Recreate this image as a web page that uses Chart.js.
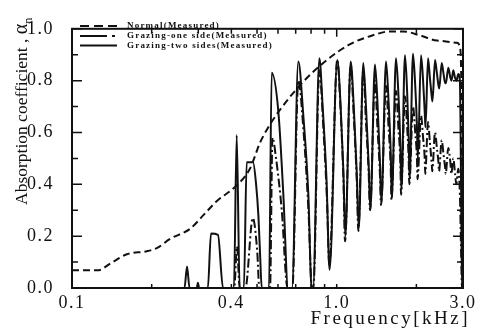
<!DOCTYPE html>
<html>
<head>
<meta charset="utf-8">
<script src="https://cdn.jsdelivr.net/npm/chart.js@4.4.1/dist/chart.umd.min.js"></script>
<style>
  html, body { margin: 0; padding: 0; background: #fff; }
  #wrap { width: 484px; height: 329px; }
</style>
</head>
<body>
<div id="wrap"><canvas id="myChart" width="484" height="329"></canvas></div>
<script>
const seriesNames = ["Normal(Measured)", "Grazing-one side(Measured)", "Grazing-two sides(Measured)"];

// Normal incidence (dashed)
const normalFreq = [0.1, 0.125, 0.14, 0.161, 0.192, 0.21, 0.235, 0.279, 0.313, 0.352, 0.413, 0.47, 0.513, 0.544,
  0.611, 0.746, 0.919, 1.12, 1.37, 1.59, 1.78, 2.06, 2.39, 2.85, 2.92, 2.96, 2.99];
const normalAlpha = [0.068, 0.068, 0.095, 0.13, 0.142, 0.155, 0.19, 0.228, 0.28, 0.335, 0.39, 0.46, 0.56, 0.61,
  0.688, 0.795, 0.88, 0.94, 0.975, 0.99, 0.99, 0.975, 0.955, 0.946, 0.93, 0.75, 0.0];

// Grazing, one side lined (dash-dot)
const oneSideFreq = [0.1, 0.41, 0.42, 0.43, 0.452, 0.482, 0.501, 0.51, 0.56, 0.572, 0.59, 0.62, 0.652,
  0.68, 0.716, 0.75, 0.782, 0.806, 0.816, 0.86, 0.89, 0.918, 0.938, 1.005, 1.035, 1.06, 1.075,
  1.129, 1.16, 1.19, 1.207, 1.26, 1.29, 1.32, 1.336, 1.395, 1.425, 1.455, 1.47, 1.536, 1.57, 1.6, 1.61,
  1.675, 1.71, 1.74, 1.75, 1.811, 1.845, 1.87, 1.88, 1.942, 1.98, 2.01, 2.02, 2.082, 2.12, 2.15, 2.16,
  2.213, 2.25, 2.285, 2.295, 2.352, 2.39, 2.425, 2.435, 2.493, 2.53, 2.57, 2.58, 2.64, 2.69, 2.71,
  2.757, 2.8, 2.83, 2.88, 2.92, 2.95, 2.975, 3.0];
const oneSideAlpha = [0, 0, 0.16, 0, 0, 0.27, 0.14, 0, 0, 0.58, 0.5, 0.3, 0,
  0, 0.8, 0.6, 0.3, 0, 0, 0.84, 0.62, 0.35, 0.09, 0.88, 0.68, 0.42, 0.18,
  0.86, 0.66, 0.42, 0.22, 0.84, 0.64, 0.45, 0.3, 0.8, 0.62, 0.45, 0.32, 0.78, 0.62, 0.46, 0.34,
  0.76, 0.62, 0.48, 0.36, 0.74, 0.62, 0.5, 0.4, 0.7, 0.6, 0.5, 0.42, 0.665, 0.58, 0.5, 0.44,
  0.64, 0.56, 0.48, 0.45, 0.6, 0.54, 0.48, 0.45, 0.57, 0.52, 0.46, 0.44, 0.54, 0.48, 0.44,
  0.5, 0.44, 0.4, 0.46, 0.36, 0.15, 0, 0];

// Grazing, two sides lined (solid)
const twoSidesFreq = [0.1, 0.266, 0.272, 0.278, 0.296, 0.299, 0.302, 0.326, 0.335, 0.356, 0.372,
  0.409, 0.419, 0.43, 0.446, 0.457, 0.483, 0.496, 0.506, 0.513, 0.521, 0.555, 0.568, 0.602, 0.628, 0.655,
  0.678, 0.716, 0.748, 0.781, 0.804, 0.814, 0.86, 0.885, 0.915, 0.94, 1.005, 1.035, 1.06, 1.078,
  1.129, 1.16, 1.19, 1.212, 1.26, 1.29, 1.32, 1.34, 1.395, 1.425, 1.455, 1.475, 1.536, 1.57, 1.6, 1.615,
  1.675, 1.71, 1.74, 1.755, 1.811, 1.845, 1.87, 1.885, 1.942, 1.98, 2.01, 2.025, 2.082, 2.12, 2.15, 2.165,
  2.213, 2.25, 2.285, 2.3, 2.352, 2.39, 2.425, 2.44, 2.493, 2.53, 2.57, 2.585, 2.64, 2.69, 2.715,
  2.757, 2.8, 2.835, 2.88, 2.92, 2.95, 2.975, 3.0];
const twoSidesAlpha = [0, 0, 0.083, 0, 0, 0.02, 0, 0, 0.21, 0.205, 0,
  0, 0.59, 0, 0, 0.485, 0.485, 0.4, 0.28, 0.14, 0, 0, 0.83, 0.68, 0.37, 0,
  0, 0.874, 0.665, 0.365, 0, 0, 0.886, 0.7, 0.42, 0.07, 0.88, 0.7, 0.45, 0.2,
  0.874, 0.7, 0.45, 0.23, 0.868, 0.7, 0.48, 0.3, 0.862, 0.72, 0.5, 0.33, 0.874, 0.72, 0.52, 0.35,
  0.886, 0.75, 0.55, 0.38, 0.898, 0.76, 0.58, 0.42, 0.904, 0.78, 0.62, 0.5, 0.898, 0.8, 0.68, 0.62,
  0.886, 0.81, 0.74, 0.72, 0.88, 0.83, 0.78, 0.77, 0.868, 0.83, 0.79, 0.79, 0.85, 0.81, 0.8,
  0.84, 0.81, 0.8, 0.826, 0.8, 0.4, 0, 0];

const xTickValues = [0.1, 0.4, 1.0, 3.0];
const xMarkValues = [0.1, 0.2, 0.3, 0.4, 0.5, 0.6, 0.7, 0.8, 0.9, 1.0, 2.0, 3.0];
const yMarkValues = [0, 0.1, 0.2, 0.3, 0.4, 0.5, 0.6, 0.7, 0.8, 0.9, 1.0];

function toPoints(xs, ys) {
  return xs.map((f, i) => ({ x: f, y: ys[i] }));
}

const frame = {
  id: "frame",
  beforeDraw(chart) {
    chart.ctx.letterSpacing = "1.5px";
  },
  afterDraw(chart) {
    const { ctx, chartArea: a, scales } = chart;
    ctx.save();
    ctx.letterSpacing = "0px";
    ctx.strokeStyle = "#111";
    ctx.lineWidth = 2;
    ctx.strokeRect(a.left, a.top, a.right - a.left, a.bottom - a.top);

    ctx.lineWidth = 1.5;
    ctx.beginPath();
    xMarkValues.forEach((v) => {
      const px = scales.x.getPixelForValue(v);
      const len = v === 1.0 ? 8 : 5;
      ctx.moveTo(px, a.top);
      ctx.lineTo(px, a.top + len);
      ctx.moveTo(px, a.bottom);
      ctx.lineTo(px, a.bottom - 4);
    });
    yMarkValues.forEach((v, i) => {
      const py = scales.y.getPixelForValue(v);
      const len = i % 2 === 0 ? 10 : 6;
      ctx.moveTo(a.left, py);
      ctx.lineTo(a.left + len, py);
      ctx.moveTo(a.right, py);
      ctx.lineTo(a.right - len, py);
    });
    ctx.stroke();

    // legend inside the plot
    const rows = [26, 36, 45.5];
    const dashes = [[9, 5], [27, 5, 3, 20], []];
    chart.data.datasets.forEach((ds, i) => {
      ctx.beginPath();
      ctx.setLineDash(dashes[i]);
      ctx.lineWidth = 2;
      ctx.moveTo(80, rows[i]);
      ctx.lineTo(117, rows[i]);
      ctx.stroke();
      ctx.setLineDash([]);
      ctx.fillStyle = "#111";
      ctx.font = "bold 9px 'Liberation Serif'";
      ctx.letterSpacing = "1.2px";
      ctx.textBaseline = "middle";
      ctx.textAlign = "left";
      ctx.fillText(ds.label, 127, rows[i]);
    });

    // x axis title
    ctx.font = "19px 'Liberation Serif'";
    ctx.letterSpacing = "2.5px";
    ctx.textAlign = "right";
    ctx.textBaseline = "alphabetic";
    ctx.fillText("Frequency[kHz]", 470, 324);

    // y axis title
    ctx.translate(27, 205);
    ctx.rotate(-Math.PI / 2);
    ctx.letterSpacing = "0px";
    ctx.textAlign = "left";
    ctx.font = "17.5px 'Liberation Serif'";
    const main = "Absorption coefficient , ";
    ctx.fillText(main, 0, 0);
    let w = ctx.measureText(main).width;
    ctx.font = "20px 'Liberation Serif'";
    ctx.fillText("\u03b1", w, 0);
    w += ctx.measureText("\u03b1").width;
    ctx.font = "12px 'Liberation Serif'";
    ctx.fillText("n", w, 5);
    ctx.restore();
  }
};

new Chart(document.getElementById("myChart"), {
  type: "line",
  data: {
    datasets: [
      {
        label: seriesNames[0],
        data: toPoints(normalFreq, normalAlpha),
        borderColor: "#111",
        borderWidth: 2,
        borderDash: [7, 4],
        pointRadius: 0,
        cubicInterpolationMode: "monotone",
        order: 0
      },
      {
        label: seriesNames[1],
        data: toPoints(oneSideFreq, oneSideAlpha),
        borderColor: "#111",
        borderWidth: 2,
        borderDash: [9, 3, 2, 3],
        pointRadius: 0,
        cubicInterpolationMode: "monotone",
        order: 1
      },
      {
        label: seriesNames[2],
        data: toPoints(twoSidesFreq, twoSidesAlpha),
        borderColor: "#111",
        borderWidth: 2,
        pointRadius: 0,
        cubicInterpolationMode: "monotone",
        order: 2
      }
    ]
  },
  options: {
    responsive: false,
    animation: false,
    layout: { padding: { top: 10, right: 21, left: 0, bottom: 0 } },
    plugins: { legend: { display: false }, tooltip: { enabled: false } },
    scales: {
      x: {
        type: "logarithmic",
        min: 0.1,
        max: 3.0,
        grid: { display: false, drawTicks: false },
        border: { display: false },
        afterBuildTicks: (s) => { s.ticks = xTickValues.map((v) => ({ value: v })); },
        afterFit: (s) => { s.height = 41; },
        ticks: {
          autoSkip: false,
          maxRotation: 0,
          padding: 4,
          color: "#111",
          font: { family: "Liberation Serif", size: 18 },
          callback: (v) => Number(v).toFixed(1)
        }
      },
      y: {
        min: 0,
        max: 1,
        grid: { display: false, drawTicks: false },
        border: { display: false },
        afterFit: (s) => { s.width = 72; },
        ticks: {
          stepSize: 0.2,
          padding: 18,
          color: "#111",
          font: { family: "Liberation Serif", size: 18 },
          callback: (v) => Number(v).toFixed(1)
        }
      }
    }
  },
  plugins: [frame]
});
</script>
</body>
</html>
